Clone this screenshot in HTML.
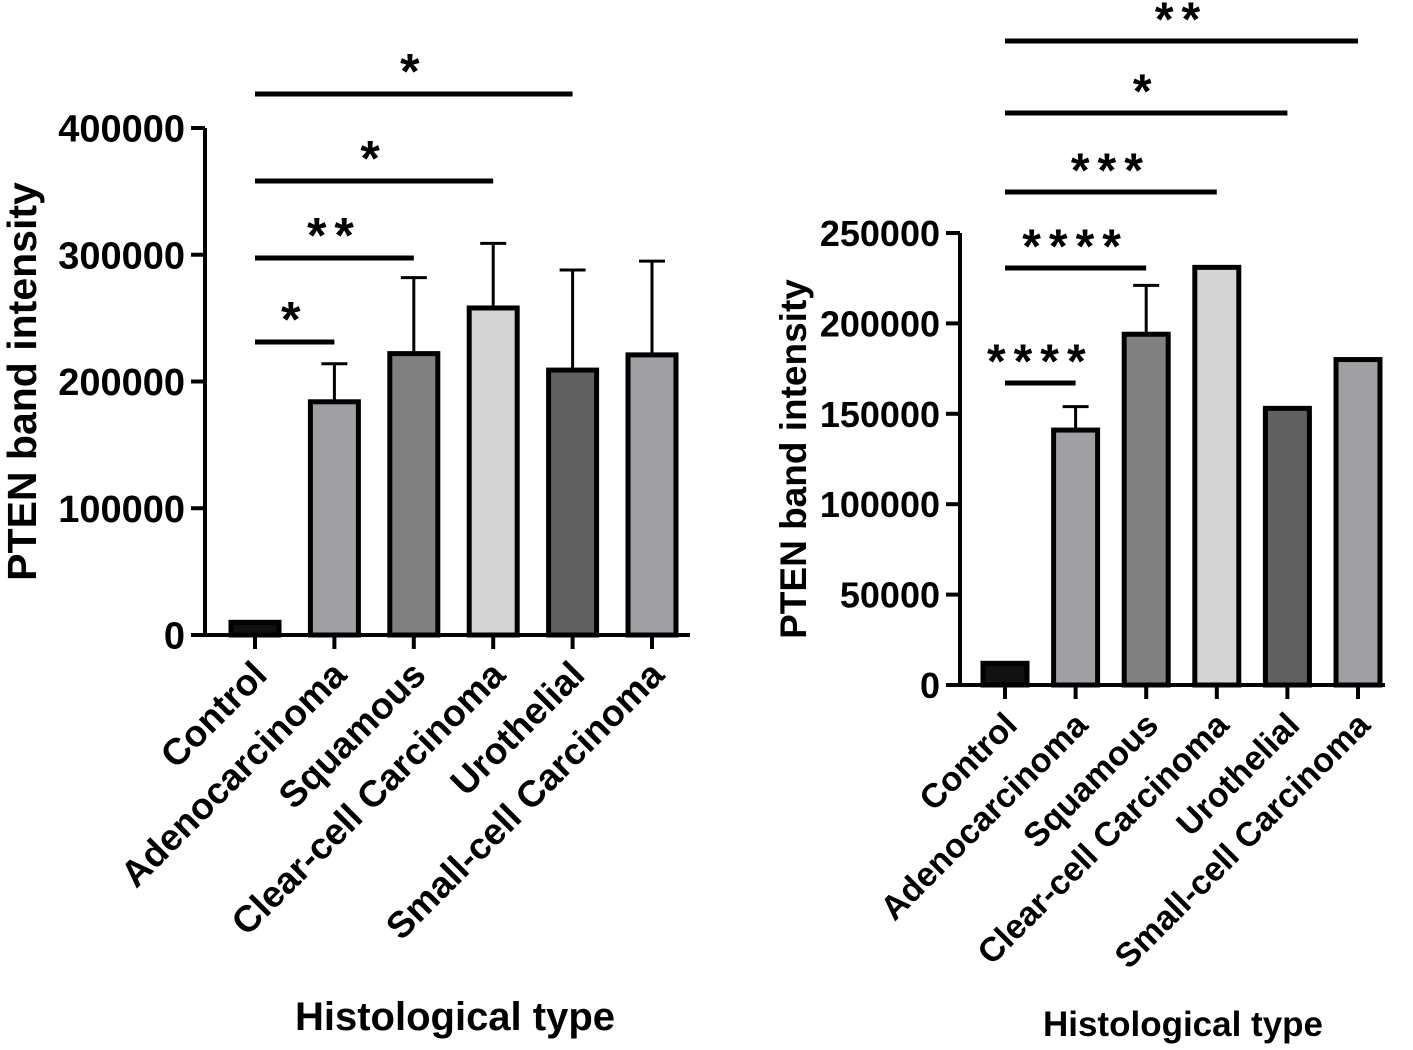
<!DOCTYPE html>
<html><head><meta charset="utf-8"><style>
body{margin:0;background:#fff;}
text{font-family:"Liberation Sans",Arial,sans-serif;font-weight:bold;fill:#000;}
</style></head><body>
<svg id="c" width="1413" height="1045" viewBox="0 0 1413 1045" xmlns="http://www.w3.org/2000/svg"></svg>
<script>
const categories=["Control","Adenocarcinoma","Squamous","Clear-cell Carcinoma","Urothelial","Small-cell Carcinoma"];
const leftValues=[10000,184000,222000,258000,209000,221000];
const leftErrors=[null,214000,282000,309000,288000,295000];
const leftTicks=[0,100000,200000,300000,400000];
const rightValues=[12000,141000,194000,231000,153000,180000];
const rightErrors=[null,154000,221000,null,null,null];
const rightTicks=[0,50000,100000,150000,200000,250000];
const fills=["#111","#a0a0a4","#808080","#d4d4d4","#606060","#a0a0a4"];
const leftSig=[[0,1,"*"],[0,2,"**"],[0,3,"*"],[0,4,"*"]];
const rightSig=[[0,1,"****"],[0,2,"****"],[0,3,"***"],[0,4,"*"],[0,5,"**"]];
const svg=document.getElementById('c');
const NS="http://www.w3.org/2000/svg";
function mk(t,a,parent){const e=document.createElementNS(NS,t);for(const k in a)e.setAttribute(k,a[k]);(parent||svg).appendChild(e);return e;}
function chart(o){
  const g=mk('g',{});
  
  
  const y=v=>o.y0-(v/o.max)*(o.y0-o.yTop);
  const x=i=>o.x0c+i*o.step;
  const ax=mk('line',{x1:o.ax,y1:y(o.max),x2:o.ax,y2:o.y0,stroke:'#000','stroke-width':4},g);
  
  o.ticks.forEach(t=>{
    mk('line',{x1:o.ax-14,y1:y(t),x2:o.ax,y2:y(t),stroke:'#000','stroke-width':4},g);
    const tx=mk('text',{x:o.ax-20,y:y(t)+o.fs*0.36,'text-anchor':'end','font-size':o.fs},g);
    tx.textContent=t;
    
  });
  const xa=mk('line',{x1:o.ax,y1:o.y0,x2:o.axEnd,y2:o.y0,stroke:'#000','stroke-width':4},g);
  
  o.values.forEach((v,i)=>{
    const cx=x(i);
    if(o.errors[i]!=null){
      const el=mk('line',{x1:cx,y1:y(o.errors[i]),x2:cx,y2:y(v),stroke:'#000','stroke-width':3},g);
      
      mk('line',{x1:cx-13,y1:y(o.errors[i]),x2:cx+13,y2:y(o.errors[i]),stroke:'#000','stroke-width':3},g);
    }
    const r=mk('rect',{x:cx-o.bw/2,y:y(v),width:o.bw,height:o.y0-y(v),fill:fills[i],stroke:'#000','stroke-width':5},g);
    
    
    mk('line',{x1:cx,y1:o.y0,x2:cx,y2:o.y0+14,stroke:'#000','stroke-width':4},g);
    const lx=cx+14, ly=o.y0+42;
    const lb=mk('text',{x:lx,y:ly,'text-anchor':'end','font-size':o.lfs,transform:`rotate(-45 ${lx} ${ly})`},g);
    lb.textContent=categories[i];
    
  });
  o.sig.forEach((s,k)=>{
    const yy=o.sigY[k];
    const l=mk('line',{x1:x(s[0]),y1:yy,x2:x(s[1]),y2:yy,stroke:'#000','stroke-width':5},g);
    
    const t=mk('text',{x:(x(s[0])+x(s[1]))/2,y:yy+o.sfs*0.05-8,'text-anchor':'middle','font-size':o.sfs,'letter-spacing':o.ls},g);
    t.textContent=s[2];
    
  });
  const cy=(o.y0+o.yTop)/2;
  const yt=mk('text',{x:o.ytX,y:cy,'text-anchor':'middle','font-size':o.tfs,transform:`rotate(-90 ${o.ytX} ${cy})`},g);
  yt.textContent="PTEN band intensity";
  
  const xt=mk('text',{x:o.xtX,y:o.xtY,'text-anchor':'middle','font-size':o.xtfs},g);
  xt.textContent="Histological type";
  
}
chart({name:'left-chart',values:leftValues,errors:leftErrors,ticks:leftTicks,max:400000,y0:635,yTop:128,ax:205,axEnd:690,x0c:255,step:79.4,bw:48,fs:38,lfs:37,sfs:50,tfs:41,xtfs:40,ls:8,
  sig:leftSig,sigY:[342,258,181,94],ytX:36,xtX:455,xtY:1030});
chart({name:'right-chart',values:rightValues,errors:rightErrors,ticks:rightTicks,max:250000,y0:685,yTop:233,ax:960,axEnd:1385,x0c:1005,step:70.6,bw:44,fs:36,lfs:34,sfs:48,tfs:37,xtfs:35,ls:8,
  sig:rightSig,sigY:[383,268,192,113,41],ytX:806,xtX:1183,xtY:1036});
</script>
</body></html>
